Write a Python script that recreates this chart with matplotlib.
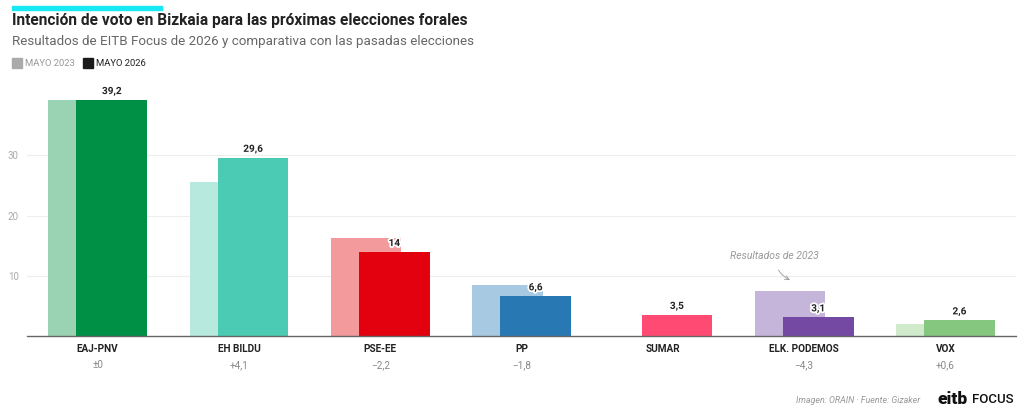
import matplotlib
import matplotlib.pyplot as plt
import matplotlib.patheffects as pe
import numpy as np

matplotlib.use("Agg")
plt.rcParams["font.family"] = ["Roboto", "DejaVu Sans"]

parties = ["EAJ-PNV", "EH BILDU", "PSE-EE", "PP", "SUMAR", "ELK. PODEMOS", "VOX"]
votes_2026 = [39.2, 29.6, 14.0, 6.6, 3.5, 3.1, 2.6]
votes_2023 = [39.2, 25.5, 16.2, 8.4, None, 7.4, 2.0]
diff_labels = ["±0", "+4,1", "−2,2", "−1,8", "", "−4,3", "+0,6"]
value_labels = ["39,2", "29,6", "14", "6,6", "3,5", "3,1", "2,6"]
colors_2026 = ["#009045", "#4bcbb3", "#e3000f", "#2878b4", "#ff4b74", "#7349a3", "#85c77f"]
colors_2023 = ["#99d3b4", "#b8e9df", "#f29a9c", "#a8c9e2", "#ffffff", "#c6b5da", "#d0ebcc"]
yticks = [10, 20, 30]

fig = plt.figure(figsize=(10.24, 4.15), dpi=100)
ax = fig.add_axes([0.0264, 0.1904, 0.9658, 0.5802])

x = np.arange(len(parties))
w = 0.5
off = 0.1

for i in range(len(parties)):
    if votes_2023[i] is not None:
        ax.bar(x[i] - off, votes_2023[i], width=w, color=colors_2023[i], zorder=2)
    ax.bar(x[i] + off, votes_2026[i], width=w, color=colors_2026[i], zorder=3)
    ax.text(x[i] + off, votes_2026[i] + 0.6, value_labels[i], ha="center", va="bottom",
            fontsize=7.2, fontweight="bold", color="#222222", zorder=5,
            path_effects=[pe.withStroke(linewidth=2.5, foreground="white")])
    ax.text(x[i], -1.3, parties[i], ha="center", va="top", fontsize=7.2,
            fontweight="bold", color="#222222")
    ax.text(x[i], -4.0, diff_labels[i], ha="center", va="top", fontsize=7.2, color="#888888")

ax.set_xlim(-0.5, len(parties) - 0.5)
ax.set_ylim(0, 40)
ax.set_yticks(yticks)
ax.set_yticklabels([str(t) for t in yticks], fontsize=7, color="#aaaaaa")
ax.tick_params(axis="y", length=0, pad=6)
ax.set_xticks([])
ax.grid(axis="y", color="#eeeeee", linewidth=0.8, zorder=0)
for s in ["top", "right", "left"]:
    ax.spines[s].set_visible(False)
ax.spines["bottom"].set_color("#666666")
ax.spines["bottom"].set_linewidth(1.0)
ax.spines["bottom"].set_zorder(6)

ax.annotate("Resultados de 2023", xy=(4.9, 9.3), xytext=(4.79, 13.3),
            ha="center", va="center", fontsize=7.5, style="italic", color="#999999",
            arrowprops=dict(arrowstyle="->", color="#999999", lw=0.6,
                            connectionstyle="arc3,rad=0.3", shrinkA=5, shrinkB=0))

# header
fig.patches.append(matplotlib.patches.Rectangle((12 / 1024, 1 - 10 / 415), 150 / 1024, 4 / 415,
                                                transform=fig.transFigure, color="#18e8f4"))
fig.text(12 / 1024, 1 - 21 / 415, "Intención de voto en Bizkaia para las próximas elecciones forales",
         fontsize=11.2, fontweight="bold", color="#222222", va="center")
fig.text(12 / 1024, 1 - 41 / 415, "Resultados de EITB Focus de 2026 y comparativa con las pasadas elecciones",
         fontsize=9.6, color="#666666", va="center")
fig.patches.append(matplotlib.patches.Rectangle((12 / 1024, 1 - 68 / 415), 10 / 1024, 10 / 415,
                                                transform=fig.transFigure, color="#aaaaaa"))
fig.text(25 / 1024, 1 - 63 / 415, "MAYO 2023", fontsize=6.8, color="#999999", va="center")
fig.patches.append(matplotlib.patches.Rectangle((83 / 1024, 1 - 68 / 415), 10 / 1024, 10 / 415,
                                                transform=fig.transFigure, color="#1a1a1a"))
fig.text(96 / 1024, 1 - 63 / 415, "MAYO 2026", fontsize=6.8, color="#222222", va="center")

# footer
fig.text(920 / 1024, 1 - 400 / 415, "Imagen: ORAIN · Fuente: Gizaker", fontsize=6.4,
         style="italic", color="#999999", ha="right", va="center")
fig.text(937 / 1024, 1 - 399 / 415, "eitb", fontsize=12.5, fontweight="black", color="#111111", va="center")
fig.text(972 / 1024, 1 - 399 / 415, "FOCUS", fontsize=9.5, fontweight="medium", color="#111111", va="center")

fig.savefig("out.png", dpi=100)
